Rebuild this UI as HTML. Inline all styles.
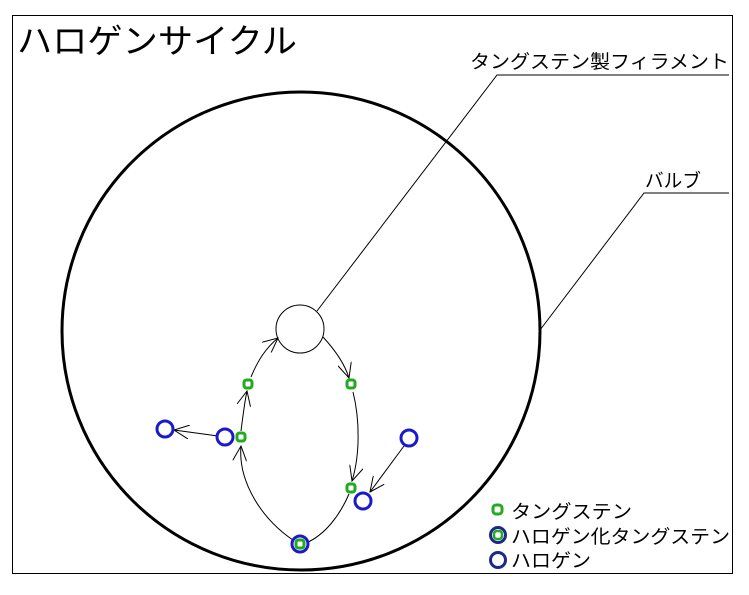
<!DOCTYPE html>
<html><head><meta charset="utf-8"><style>
body{margin:0;background:#fff;}
svg{display:block;font-family:"Liberation Sans","Noto Sans CJK JP",sans-serif;}
</style></head><body>
<svg width="749" height="595" viewBox="0 0 749 595">
<defs>
<marker id="a" markerWidth="16" markerHeight="14" refX="15" refY="7" orient="auto" markerUnits="userSpaceOnUse">
<path d="M0,0 L15,7 L0,14" fill="none" stroke="#000" stroke-width="1"/>
</marker>
</defs>
<rect x="12.5" y="15.5" width="720" height="558" fill="#fff" stroke="#000" stroke-width="1"/>
<text x="17" y="53" font-size="34" textLength="280" lengthAdjust="spacingAndGlyphs">ハロゲンサイクル</text>
<circle cx="301" cy="331" r="239" fill="none" stroke="#000" stroke-width="3"/>
<circle cx="300" cy="329" r="24" fill="#fff" stroke="#000" stroke-width="1"/>
<polyline points="317,311 497,75 729,75" fill="none" stroke="#000"/>
<text x="470" y="68" font-size="19" textLength="259" lengthAdjust="spacingAndGlyphs">タングステン製フィラメント</text>
<polyline points="540,330 644,193 729,193" fill="none" stroke="#000"/>
<text x="645" y="187" font-size="19" textLength="56" lengthAdjust="spacingAndGlyphs">バルブ</text>
<g fill="none" stroke="#000" stroke-width="1">
<path d="M299,544 C260,520 238,480 241,446" marker-end="url(#a)"/>
<path d="M241,431 C243,415 245,400 247,391" marker-end="url(#a)"/>
<path d="M251,377 C258,360 266,348 278,338" marker-end="url(#a)"/>
<path d="M323,337 C335,350 345,365 349,378" marker-end="url(#a)"/>
<path d="M353,392 C360,420 360,455 352,481" marker-end="url(#a)"/>
<path d="M349,494 C340,515 325,535 306,543"/>
<path d="M218,436 L174,430" marker-end="url(#a)"/>
<path d="M404,446 L370,492" marker-end="url(#a)"/>
</g>
<g fill="#fff" stroke="#1a1acc" stroke-width="3">
<circle cx="165" cy="429" r="8"/>
<circle cx="225" cy="437" r="8"/>
<circle cx="409" cy="438" r="8"/>
<circle cx="363" cy="501" r="8"/>
<circle cx="300" cy="544" r="8"/>
</g>
<g fill="#fff" stroke="#22aa22" stroke-width="3">
<rect x="244" y="380" width="8" height="8" rx="2.5"/>
<rect x="347" y="380" width="8" height="8" rx="2.5"/>
<rect x="237" y="433" width="8" height="8" rx="2.5"/>
<rect x="347" y="484" width="8" height="8" rx="2.5"/>
<rect x="296" y="540" width="8" height="8" rx="2.5"/>
</g>
<rect x="493" y="505" width="9" height="9" rx="3" fill="#fff" stroke="#22aa22" stroke-width="3"/>
<circle cx="498" cy="535" r="7.5" fill="#fff" stroke="#1a2a88" stroke-width="3"/>
<rect x="494" y="531" width="8" height="8" rx="3" fill="#fff" stroke="#22aa22" stroke-width="2.5"/>
<circle cx="498" cy="560" r="7.5" fill="#fff" stroke="#1a2a88" stroke-width="3"/>
<text x="511" y="518" font-size="19" textLength="121" lengthAdjust="spacingAndGlyphs">タングステン</text>
<text x="511" y="543" font-size="19" textLength="219" lengthAdjust="spacingAndGlyphs">ハロゲン化タングステン</text>
<text x="511" y="567" font-size="19" textLength="80" lengthAdjust="spacingAndGlyphs">ハロゲン</text>
</svg>
</body></html>
